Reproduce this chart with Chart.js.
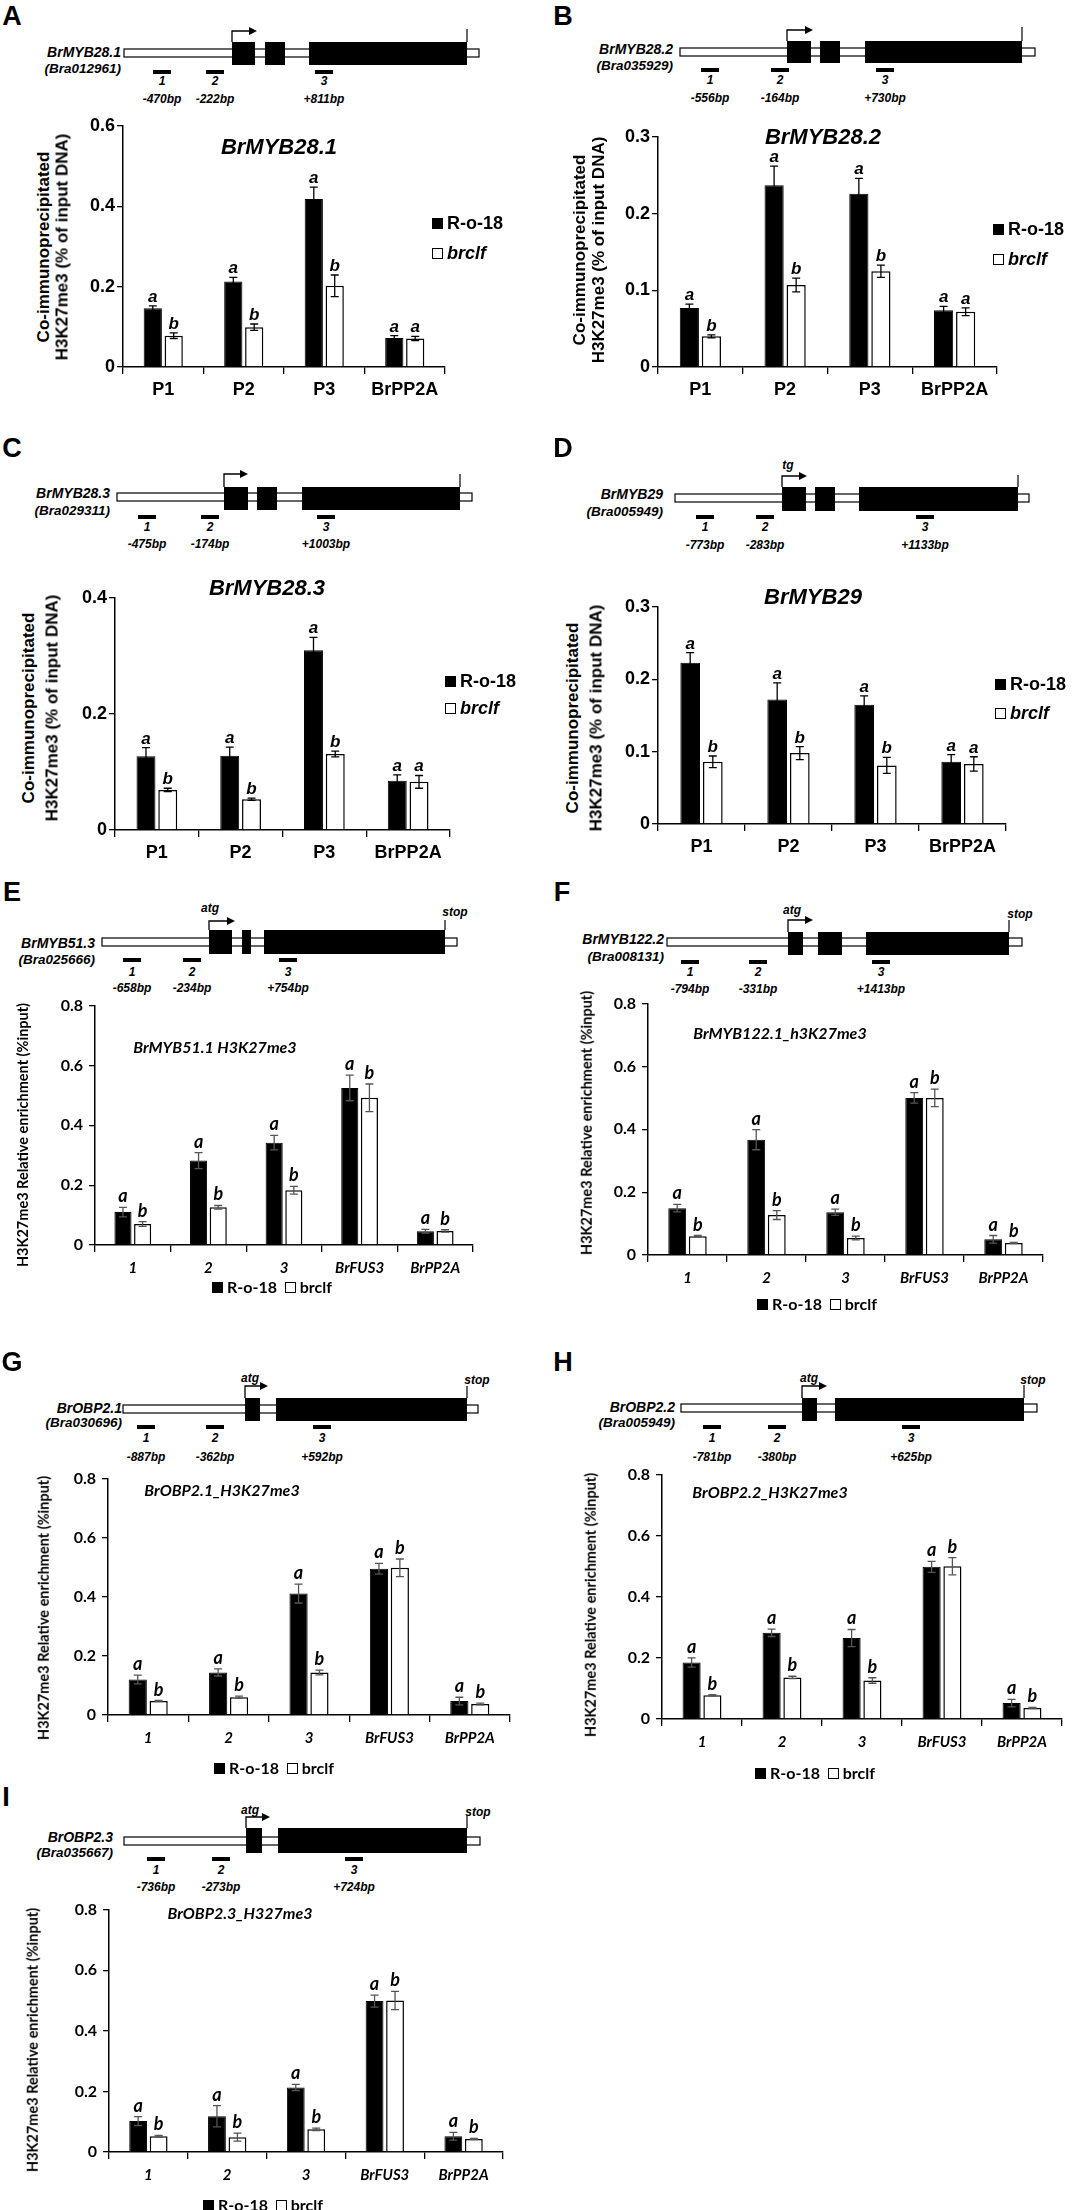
<!DOCTYPE html>
<html>
<head>
<meta charset="utf-8">
<script src="https://cdn.jsdelivr.net/npm/chart.js@4.4.1/dist/chart.umd.min.js"></script>
<style>
  body { margin: 0; background: #fff; }
  #page { position: relative; width: 1080px; height: 2210px; overflow: hidden; background: #fff; }
  .t { position: absolute; white-space: nowrap; line-height: 1; color: #000; }
  .sq { display: inline-block; width: 11px; height: 11px; border: 1px solid #000; box-sizing: border-box; margin-right: 4px; vertical-align: 0px; }
  canvas { position: absolute; }
</style>
</head>
<body>
<div id="page">
  <svg id="genes" width="1080" height="2210" style="position:absolute;left:0;top:0"></svg>
</div>
<script>
// ---- data ----
const sitesP = ["P1", "P2", "P3", "BrPP2A"];
const sitesE = ["1", "2", "3", "BrFUS3", "BrPP2A"];

const lettersRo18P = ["a", "a", "a", "a"];
const lettersBrclfP = ["b", "b", "b", "a"];
const lettersRo18E = ["a", "a", "a", "a", "a"];
const lettersBrclfE = ["b", "b", "b", "b", "b"];

// A BrMYB28.1
const ro18A = [0.146, 0.213, 0.418, 0.072];
const ro18ErrA = [0.006, 0.010, 0.030, 0.006];
const brclfA = [0.078, 0.099, 0.202, 0.071];
const brclfErrA = [0.007, 0.008, 0.027, 0.005];
// B BrMYB28.2
const ro18B = [0.077, 0.237, 0.226, 0.074];
const ro18ErrB = [0.005, 0.025, 0.020, 0.005];
const brclfB = [0.040, 0.107, 0.125, 0.072];
const brclfErrB = [0.002, 0.009, 0.008, 0.005];
// C BrMYB28.3
const ro18C = [0.127, 0.128, 0.310, 0.085];
const ro18ErrC = [0.015, 0.015, 0.022, 0.010];
const brclfC = [0.069, 0.053, 0.131, 0.083];
const brclfErrC = [0.003, 0.002, 0.005, 0.011];
// D BrMYB29
const ro18D = [0.223, 0.172, 0.165, 0.086];
const ro18ErrD = [0.014, 0.023, 0.012, 0.010];
const brclfD = [0.086, 0.098, 0.081, 0.083];
const brclfErrD = [0.008, 0.009, 0.011, 0.010];
// E BrMYB51.1
const ro18E = [0.110, 0.282, 0.342, 0.525, 0.046];
const ro18ErrE = [0.016, 0.027, 0.024, 0.043, 0.006];
const brclfE = [0.070, 0.126, 0.183, 0.492, 0.047];
const brclfErrE = [0.008, 0.006, 0.013, 0.046, 0.004];
// F BrMYB122.1
const ro18F = [0.149, 0.367, 0.136, 0.500, 0.050];
const ro18ErrF = [0.012, 0.032, 0.010, 0.017, 0.012];
const brclfF = [0.060, 0.127, 0.054, 0.500, 0.038];
const brclfErrF = [0.002, 0.014, 0.006, 0.028, 0.002];
// G BrOBP2.1
const ro18G = [0.120, 0.144, 0.411, 0.495, 0.047];
const ro18ErrG = [0.015, 0.012, 0.032, 0.018, 0.013];
const brclfG = [0.047, 0.060, 0.144, 0.498, 0.037];
const brclfErrG = [0.002, 0.004, 0.008, 0.030, 0.003];
// H BrOBP2.2
const ro18H = [0.185, 0.282, 0.265, 0.498, 0.052];
const ro18ErrH = [0.015, 0.012, 0.028, 0.018, 0.012];
const brclfH = [0.078, 0.136, 0.126, 0.500, 0.036];
const brclfErrH = [0.002, 0.004, 0.009, 0.028, 0.002];
// I BrOBP2.3
const ro18I = [0.102, 0.118, 0.213, 0.498, 0.052];
const ro18ErrI = [0.015, 0.035, 0.010, 0.020, 0.013];
const brclfI = [0.052, 0.049, 0.075, 0.500, 0.043];
const brclfErrI = [0.003, 0.013, 0.004, 0.030, 0.002];

// ---- fonts ----
const ARIAL = '"Liberation Sans", Arial, sans-serif';
const CALI = 'Lato, "Open Sans", sans-serif';

const page = document.getElementById("page");
const svg = document.getElementById("genes");

function label(text, x, y, o) {
  const d = document.createElement("div");
  d.className = "t";
  d.textContent = text;
  d.style.left = x + "px";
  d.style.top = y + "px";
  d.style.fontFamily = o.family || ARIAL;
  d.style.fontSize = (o.size || 14) + "px";
  d.style.fontWeight = o.weight || "bold";
  if (o.italic) d.style.fontStyle = "italic";
  let tx = "-50%";
  if (o.align === "right") tx = "-100%";
  if (o.align === "left") tx = "0";
  d.style.transform = `translate(${tx},-50%)` + (o.rotate ? ` rotate(${o.rotate}deg)` : "");
  page.appendChild(d);
  return d;
}

function shape(tag, attrs) {
  const el = document.createElementNS("http://www.w3.org/2000/svg", tag);
  for (const k in attrs) el.setAttribute(k, attrs[k]);
  svg.appendChild(el);
}

// ---- gene structure diagrams ----
const genes = [
  { name: "BrMYB28.1", id: "(Bra012961)", nameRight: 121, nameY: 52, idY: 69, x0: 124, x1: 479, yc: 53, exTop: 42, exBot: 65,
    exons: [[232, 255], [265, 285], [309, 467]], arrowX: 232, arrowTop: 31, arrowEnd: 257, endX: 467, endTop: 29,
    probes: [153, 206, 315], probeY: 72, numY: 81, bpY: 99, bp: ["-470bp", "-222bp", "+811bp"] },
  { name: "BrMYB28.2", id: "(Bra035929)", nameRight: 673, nameY: 49, idY: 66, x0: 680, x1: 1035, yc: 52, exTop: 41, exBot: 63,
    exons: [[787, 811], [820, 840], [865, 1022]], arrowX: 787, arrowTop: 30, arrowEnd: 813, endX: 1022, endTop: 27,
    probes: [701, 771, 876], probeY: 70, numY: 80, bpY: 98, bp: ["-556bp", "-164bp", "+730bp"] },
  { name: "BrMYB28.3", id: "(Bra029311)", nameRight: 110, nameY: 493, idY: 511, x0: 117, x1: 472, yc: 497, exTop: 487, exBot: 510,
    exons: [[224, 248], [257, 277], [302, 460]], arrowX: 224, arrowTop: 474, arrowEnd: 248, endX: 460, endTop: 474,
    probes: [138, 201, 317], probeY: 517, numY: 527, bpY: 544, bp: ["-475bp", "-174bp", "+1003bp"] },
  { name: "BrMYB29", id: "(Bra005949)", nameRight: 663, nameY: 494, idY: 512, x0: 675, x1: 1029, yc: 498, exTop: 487, exBot: 511,
    exons: [[782, 806], [815, 835], [859, 1018]], arrowX: 782, arrowTop: 476, arrowEnd: 807, endX: 1018, endTop: 475,
    startText: "tg", startX: 788, startY: 465,
    probes: [696, 756, 916], probeY: 517, numY: 527, bpY: 545, bp: ["-773bp", "-283bp", "+1133bp"] },
  { name: "BrMYB51.3", id: "(Bra025666)", nameRight: 95, nameY: 943, idY: 960, x0: 102, x1: 457, yc: 942, exTop: 930, exBot: 954,
    exons: [[209, 232], [242, 251], [264, 445]], arrowX: 209, arrowTop: 921, arrowEnd: 235, endX: 445, endTop: 920,
    startText: "atg", startX: 210, startY: 908, stopX: 455, stopY: 912,
    probes: [123, 183, 279], probeY: 960, numY: 972, bpY: 988, bp: ["-658bp", "-234bp", "+754bp"] },
  { name: "BrMYB122.2", id: "(Bra008131)", nameRight: 664, nameY: 939, idY: 957, x0: 667, x1: 1022, yc: 942, exTop: 932, exBot: 955,
    exons: [[788, 803], [818, 842], [866, 1009]], arrowX: 788, arrowTop: 920, arrowEnd: 813, endX: 1009, endTop: 920,
    startText: "atg", startX: 792, startY: 910, stopX: 1020, stopY: 914,
    probes: [681, 749, 872], probeY: 962, numY: 972, bpY: 989, bp: ["-794bp", "-331bp", "+1413bp"] },
  { name: "BrOBP2.1", id: "(Bra030696)", nameRight: 122, nameY: 1408, idY: 1423, x0: 123, x1: 478, yc: 1409, exTop: 1398, exBot: 1421,
    exons: [[245, 260], [276, 467]], arrowX: 245, arrowTop: 1386, arrowEnd: 268, endX: 467, endTop: 1386,
    startText: "atg", startX: 250, startY: 1378, stopX: 477, stopY: 1380,
    probes: [137, 206, 313], probeY: 1427, numY: 1438, bpY: 1457, bp: ["-887bp", "-362bp", "+592bp"] },
  { name: "BrOBP2.2", id: "(Bra005949)", nameRight: 675, nameY: 1407, idY: 1423, x0: 681, x1: 1037, yc: 1408, exTop: 1398, exBot: 1421,
    exons: [[802, 817], [835, 1024]], arrowX: 802, arrowTop: 1386, arrowEnd: 827, endX: 1024, endTop: 1385,
    startText: "atg", startX: 809, startY: 1378, stopX: 1033, stopY: 1380,
    probes: [703, 768, 902], probeY: 1427, numY: 1438, bpY: 1457, bp: ["-781bp", "-380bp", "+625bp"] },
  { name: "BrOBP2.3", id: "(Bra035667)", nameRight: 113, nameY: 1837, idY: 1853, x0: 124, x1: 480, yc: 1841, exTop: 1828, exBot: 1853,
    exons: [[246, 262], [278, 467]], arrowX: 246, arrowTop: 1817, arrowEnd: 270, endX: 467, endTop: 1815,
    startText: "atg", startX: 250, startY: 1810, stopX: 478, stopY: 1812,
    probes: [147, 212, 345], probeY: 1859, numY: 1870, bpY: 1887, bp: ["-736bp", "-273bp", "+724bp"] }
];

function drawGene(g) {
  shape("rect", { x: g.x0, y: g.yc - 4, width: g.x1 - g.x0, height: 8, fill: "#fff", stroke: "#000", "stroke-width": 1.2 });
  g.exons.forEach(e => shape("rect", { x: e[0], y: g.exTop, width: e[1] - e[0], height: g.exBot - g.exTop, fill: "#000" }));
  shape("path", { d: `M${g.arrowX} ${g.exTop} V${g.arrowTop} H${g.arrowEnd - 7}`, fill: "none", stroke: "#000", "stroke-width": 1.3 });
  shape("path", { d: `M${g.arrowEnd - 8} ${g.arrowTop - 4} L${g.arrowEnd} ${g.arrowTop} L${g.arrowEnd - 8} ${g.arrowTop + 4} Z`, fill: "#000" });
  shape("line", { x1: g.endX, y1: g.exTop, x2: g.endX, y2: g.endTop, stroke: "#000", "stroke-width": 1.2 });
  g.probes.forEach((px, k) => {
    shape("rect", { x: px, y: g.probeY - 2, width: 18, height: 4, fill: "#000" });
    label(String(k + 1), px + 9, g.numY, { size: 12, italic: true });
    label(g.bp[k], px + 9, g.bpY, { size: 12, italic: true });
  });
  label(g.name, g.nameRight, g.nameY, { size: 14, italic: true, align: "right" });
  label(g.id, g.nameRight, g.idY, { size: 13.5, italic: true, align: "right" });
  if (g.startText) label(g.startText, g.startX, g.startY, { size: 12, italic: true });
  if (g.stopX) label("stop", g.stopX, g.stopY, { size: 12, italic: true });
}
genes.forEach(drawGene);

// ---- error bars and significance letters ----
const errorBars = {
  id: "errorBars",
  afterDatasetsDraw(chart, args, opts) {
    const ctx = chart.ctx, y = chart.scales.y;
    chart.data.datasets.forEach((ds, i) => {
      chart.getDatasetMeta(i).data.forEach((bar, j) => {
        const v = ds.data[j], e = ds.errs[j];
        const top = y.getPixelForValue(v + e), bot = y.getPixelForValue(v - e);
        ctx.save();
        ctx.strokeStyle = opts.color;
        ctx.lineWidth = 1.3;
        ctx.beginPath();
        ctx.moveTo(bar.x, top); ctx.lineTo(bar.x, bot);
        ctx.moveTo(bar.x - opts.cap, top); ctx.lineTo(bar.x + opts.cap, top);
        ctx.moveTo(bar.x - opts.cap, bot); ctx.lineTo(bar.x + opts.cap, bot);
        ctx.stroke();
        ctx.fillStyle = "#000";
        ctx.font = opts.font;
        ctx.textAlign = "center";
        ctx.textBaseline = "alphabetic";
        ctx.fillText(ds.letters[j], bar.x, top - opts.gap);
        ctx.restore();
      });
    });
  }
};

const panels = [
  { letter: "A", lx: 12, ly: 16, x0: 123, x1: 445, yTop: 126, yBot: 367, max: 0.6, step: 0.2, labels: sitesP,
    ro18: ro18A, ro18Err: ro18ErrA, brclf: brclfA, brclfErr: brclfErrA, lr: lettersRo18P, lb: lettersBrclfP,
    style: "arial", title: "BrMYB28.1", tx: 279, ty: 147, yt: [43, 62, 247], leg: { x: 432, y1: 223, y2: 253 } },
  { letter: "B", lx: 563, ly: 16, x0: 658, x1: 997, yTop: 137, yBot: 367, max: 0.3, step: 0.1, labels: sitesP,
    ro18: ro18B, ro18Err: ro18ErrB, brclf: brclfB, brclfErr: brclfErrB, lr: lettersRo18P, lb: lettersBrclfP,
    style: "arial", title: "BrMYB28.2", tx: 823, ty: 137, yt: [579, 598, 250], leg: { x: 993, y1: 229, y2: 259 } },
  { letter: "C", lx: 12, ly: 448, x0: 115, x1: 450, yTop: 598, yBot: 830, max: 0.4, step: 0.2, labels: sitesP,
    ro18: ro18C, ro18Err: ro18ErrC, brclf: brclfC, brclfErr: brclfErrC, lr: lettersRo18P, lb: lettersBrclfP,
    style: "arial", title: "BrMYB28.3", tx: 267, ty: 588, yt: [28, 52, 708], leg: { x: 445, y1: 681, y2: 708 } },
  { letter: "D", lx: 563, ly: 448, x0: 658, x1: 1006, yTop: 607, yBot: 824, max: 0.3, step: 0.1, labels: sitesP,
    ro18: ro18D, ro18Err: ro18ErrD, brclf: brclfD, brclfErr: brclfErrD, lr: lettersRo18P, lb: lettersBrclfP,
    style: "arial", title: "BrMYB29", tx: 813, ty: 597, yt: [572, 596, 718], leg: { x: 995, y1: 684, y2: 713 } },
  { letter: "E", lx: 12, ly: 892, x0: 95, x1: 473, yTop: 1004, yBot: 1245, max: 0.8, step: 0.2, labels: sitesE,
    ro18: ro18E, ro18Err: ro18ErrE, brclf: brclfE, brclfErr: brclfErrE, lr: lettersRo18E, lb: lettersBrclfE,
    style: "cali", title: "BrMYB51.1 H3K27me3", tx: 215, ty: 1047, yt: [23, 1135], leg: { cx: 272, y: 1287 } },
  { letter: "F", lx: 562, ly: 892, x0: 648, x1: 1043, yTop: 1002, yBot: 1255, max: 0.8, step: 0.2, labels: sitesE,
    ro18: ro18F, ro18Err: ro18ErrF, brclf: brclfF, brclfErr: brclfErrF, lr: lettersRo18E, lb: lettersBrclfE,
    style: "cali", title: "BrMYB122.1_h3K27me3", tx: 780, ty: 1033, yt: [587, 1123], leg: { cx: 817, y: 1304 } },
  { letter: "G", lx: 12, ly: 1362, x0: 108, x1: 510, yTop: 1477, yBot: 1715, max: 0.8, step: 0.2, labels: sitesE,
    ro18: ro18G, ro18Err: ro18ErrG, brclf: brclfG, brclfErr: brclfErrG, lr: lettersRo18E, lb: lettersBrclfE,
    style: "cali", title: "BrOBP2.1_H3K27me3", tx: 222, ty: 1490, yt: [44, 1608], leg: { cx: 274, y: 1768 } },
  { letter: "H", lx: 563, ly: 1362, x0: 662, x1: 1062, yTop: 1473, yBot: 1719, max: 0.8, step: 0.2, labels: sitesE,
    ro18: ro18H, ro18Err: ro18ErrH, brclf: brclfH, brclfErr: brclfErrH, lr: lettersRo18E, lb: lettersBrclfE,
    style: "cali", title: "BrOBP2.2_H3K27me3", tx: 770, ty: 1492, yt: [591, 1605], leg: { cx: 815, y: 1773 } },
  { letter: "I", lx: 6, ly: 1797, x0: 109, x1: 503, yTop: 1908, yBot: 2152, max: 0.8, step: 0.2, labels: sitesE,
    ro18: ro18I, ro18Err: ro18ErrI, brclf: brclfI, brclfErr: brclfErrI, lr: lettersRo18E, lb: lettersBrclfE,
    style: "cali", title: "BrOBP2.3_H327me3", tx: 240, ty: 1913, yt: [33, 2040], leg: { cx: 263, y: 2205 } }
];

function barPanel(p) {
  const arial = p.style === "arial";
  const YW = 70, XH = 50, PT = 14, PR = 10;
  const w = p.x1 - p.x0 + YW + PR, h = p.yBot - p.yTop + PT + XH;
  const c = document.createElement("canvas");
  c.width = w; c.height = h;
  c.style.left = (p.x0 - YW) + "px";
  c.style.top = (p.yTop - PT) + "px";
  c.style.width = w + "px";
  c.style.height = h + "px";
  page.appendChild(c);

  new Chart(c, {
    type: "bar",
    data: {
      labels: p.labels,
      datasets: [
        { label: "R-o-18", data: p.ro18, errs: p.ro18Err, letters: p.lr,
          backgroundColor: "#000", borderColor: "#000", borderWidth: 1,
          categoryPercentage: 0.52, barPercentage: 0.87 },
        { label: "brclf", data: p.brclf, errs: p.brclfErr, letters: p.lb,
          backgroundColor: "#fff", borderColor: "#000", borderWidth: 1.5,
          categoryPercentage: 0.52, barPercentage: 0.87 }
      ]
    },
    options: {
      responsive: false,
      animation: false,
      layout: { padding: { top: PT, right: PR, left: 0, bottom: 0 } },
      plugins: {
        legend: { display: false },
        tooltip: { enabled: false },
        errorBars: {
          color: arial ? "#000" : "#555",
          cap: 4,
          gap: arial ? 4 : 5,
          font: arial ? `italic bold 17px ${ARIAL}` : `italic bold 18px ${CALI}`
        }
      },
      scales: {
        x: {
          grid: { offset: true, drawOnChartArea: false, drawTicks: true, tickLength: 7, color: "#000", lineWidth: 1.3 },
          border: { color: "#000", width: 1.5 },
          ticks: { color: "#000", padding: arial ? 5 : 7,
                   font: arial ? { family: ARIAL, size: 18, weight: "bold" } : { family: CALI, size: 15, weight: "bold", style: "italic" } },
          afterFit(s) { s.height = XH; }
        },
        y: {
          min: 0, max: p.max,
          grid: { drawOnChartArea: false, drawTicks: true, tickLength: 6, color: "#000", lineWidth: 1.3 },
          border: { color: "#000", width: 1.5 },
          ticks: { stepSize: p.step, color: "#000", padding: arial ? 2 : 6,
                   font: arial ? { family: ARIAL, size: 18, weight: "bold" } : { family: CALI, size: 16, weight: "bold" },
                   callback: v => (Math.abs(v) < 1e-9 ? "0" : (+v).toFixed(1)) },
          afterFit(s) { s.width = YW; }
        }
      }
    },
    plugins: [errorBars]
  });

  // panel letter, title, axis title and legend
  label(p.letter, p.lx, p.ly, { size: 27 });
  if (arial) {
    label(p.title, p.tx, p.ty, { size: 22, italic: true });
    label("Co-immunoprecipitated", p.yt[0], p.yt[2], { size: 17, rotate: -90 });
    label("H3K27me3 (% of input DNA)", p.yt[1], p.yt[2], { size: 17, rotate: -90 });
    const l1 = label("", p.leg.x, p.leg.y1, { size: 18, align: "left" });
    l1.innerHTML = '<span class="sq" style="background:#000"></span>R-o-18';
    const l2 = label("", p.leg.x, p.leg.y2, { size: 18, align: "left" });
    l2.innerHTML = '<span class="sq" style="background:#fff"></span><i>brclf</i>';
  } else {
    label(p.title, p.tx, p.ty, { size: 16, italic: true, family: CALI });
    label("H3K27me3 Relative enrichment (%input)", p.yt[0], p.yt[1], { size: 14.5, family: CALI, rotate: -90 });
    const l = label("", p.leg.cx, p.leg.y, { size: 16, family: CALI });
    l.innerHTML = '<span class="sq" style="background:#000"></span>R-o-18&nbsp;&nbsp;<span class="sq" style="background:#fff"></span>brclf';
  }
}

panels.forEach(barPanel);
</script>
</body>
</html>
